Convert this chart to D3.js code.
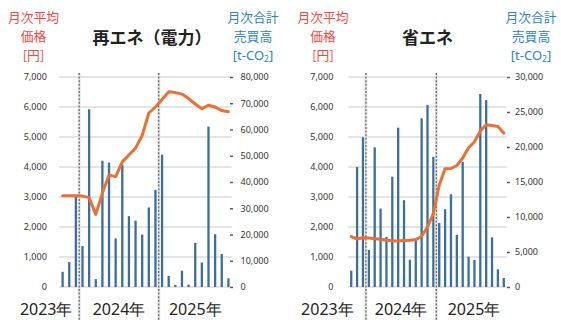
<!DOCTYPE html>
<html><head><meta charset="utf-8">
<script src="https://cdn.jsdelivr.net/npm/d3@7/dist/d3.min.js"></script>
<style>html,body{margin:0;padding:0;background:#fff;} svg{display:block;}</style>
</head><body><svg id="c" width="561" height="320"></svg>
<script>
// ---------- data ----------
const reMonths = ["2023-10","2023-11","2023-12",
  "2024-01","2024-02","2024-03","2024-04","2024-05","2024-06","2024-07","2024-08","2024-09","2024-10","2024-11","2024-12",
  "2025-01","2025-02","2025-03","2025-04","2025-05","2025-06","2025-07","2025-08","2025-09","2025-10","2025-11"];
const reVolume = [5800, 9500, 35000, 15600, 67700, 3000, 48100, 47400, 18500, 46600, 27000, 25300, 20000, 30300, 37000,
  50400, 4200, 800, 6200, 900, 16800, 9300, 61100, 20100, 12600, 3300];
const rePrice = [3040, 3040, 3040, 3030, 2980, 2420, 3130, 3730, 3680, 4170, 4400, 4630, 5050, 5800, 6000,
  6250, 6510, 6480, 6430, 6280, 6100, 5940, 6060, 6000, 5880, 5840];

const seMonths = ["2023-10","2023-11","2023-12",
  "2024-01","2024-02","2024-03","2024-04","2024-05","2024-06","2024-07","2024-08","2024-09","2024-10","2024-11","2024-12",
  "2025-01","2025-02","2025-03","2025-04","2025-05","2025-06","2025-07","2025-08","2025-09","2025-10","2025-11","2025-12"];
const seVolume = [2330, 17150, 21400, 5300, 19950, 11200, 7150, 15760, 22760, 12400, 3900, 6700, 24100, 26000, 18600,
  9150, 11100, 13250, 7430, 17850, 4330, 3860, 27570, 26700, 7100, 2530, 1280];
const sePrice = [1680, 1600, 1640, 1630, 1610, 1590, 1560, 1540, 1530, 1550, 1560, 1580, 1690, 2000, 2450,
  3400, 3940, 3950, 4050, 4300, 4640, 4840, 5200, 5410, 5380, 5350, 5130];

const priceTicks = [0, 1000, 2000, 3000, 4000, 5000, 6000, 7000];
const reVolTicks = [0, 10000, 20000, 30000, 40000, 50000, 60000, 70000, 80000];
const seVolTicks = [0, 5000, 10000, 15000, 20000, 25000, 30000];
const yearLabels = ["2023年", "2024年", "2025年"];
const yearStarts = ["2023-10", "2024-01", "2025-01"];
const priceTitle = ["月次平均", "価格", "[円]"];
const volTitle = ["月次合計", "売買高"];
const titles = ["再エネ（電力）", "省エネ"];

// ---------- drawing ----------
const svg = d3.select("#c");
const NUM = "'Noto Sans', 'Open Sans', sans-serif";
const CJK = "'Noto Sans CJK JP', 'Noto Sans', sans-serif";
const RED = "#ef4a3e", BLUE = "#2a83c5", BAR = "#3d6f98", LINE = "#eb7035";

function draw(cfg) {
  const g = svg.append("g");
  const x = d3.scaleBand().domain(cfg.months).range([cfg.x0, cfg.x1]).padding(0);
  const bw = x.bandwidth();
  const yTop = 77, yBot = 287;
  const y = d3.scaleLinear().domain([0, 7000]).range([yBot, yTop]);
  const y2 = d3.scaleLinear().domain([0, cfg.volMax]).range([yBot, yTop]);

  // gridlines
  g.append("g").selectAll("line").data(priceTicks).join("line")
    .attr("x1", cfg.x0).attr("x2", cfg.x1)
    .attr("y1", d => y(d)).attr("y2", d => y(d))
    .attr("stroke", "#dcdcdc").attr("stroke-width", 1.3);

  // left axis
  const la = g.append("g").attr("transform", `translate(${cfg.x0},0)`)
    .call(d3.axisLeft(y).tickValues(priceTicks).tickSize(0).tickPadding(cfg.lpad).tickFormat(d3.format(",")));
  la.select(".domain").remove();
  la.selectAll("text").attr("font-family", NUM).attr("font-size", 9).attr("fill", "#333");

  // right axis
  const ra = g.append("g").attr("transform", `translate(${cfg.rx},0)`)
    .call(d3.axisRight(y2).tickValues(cfg.volTicks).tickSize(3).tickPadding(cfg.rpad).tickFormat(d3.format(",")));
  ra.select(".domain").remove();
  ra.selectAll("line").attr("stroke", "#555").attr("stroke-width", 1.4);
  ra.selectAll("text").attr("font-family", NUM).attr("font-size", 9).attr("fill", "#333");

  // bars
  g.append("g").selectAll("rect").data(cfg.months).join("rect")
    .attr("x", (m) => x(m) + bw / 2 - 1.15)
    .attr("width", 2.3)
    .attr("y", (m, i) => y2(cfg.volume[i]))
    .attr("height", (m, i) => yBot - y2(cfg.volume[i]))
    .attr("fill", BAR);

  // year dividers
  yearStarts.slice(1).forEach(ms => {
    const xd = x(ms);
    g.append("line").attr("x1", xd).attr("x2", xd).attr("y1", 73).attr("y2", 320)
      .attr("stroke", "#e6e6e6").attr("stroke-width", 3);
    g.append("line").attr("x1", xd).attr("x2", xd).attr("y1", 73).attr("y2", 320)
      .attr("stroke", "#555").attr("stroke-width", 1.1).attr("stroke-dasharray", "2,1.6");
  });

  // price line
  const line = d3.line().x((d, i) => x(cfg.months[i]) + bw / 2).y(d => y(d));
  g.append("path").datum(cfg.price).attr("d", line)
    .attr("fill", "none").attr("stroke", LINE).attr("stroke-width", 3)
    .attr("stroke-linejoin", "round").attr("stroke-linecap", "round");

  // year labels
  yearLabels.forEach((t, k) => {
    let xc;
    if (k === 0) xc = x(yearStarts[1]) - cfg.y23off;
    else {
      const s = x(yearStarts[k]);
      const e = k === 2 ? cfg.x1 : x(yearStarts[k + 1]);
      xc = (s + e) / 2 + (k === 2 ? cfg.y25shift : 0);
    }
    g.append("text").attr("x", xc).attr("y", 315).attr("text-anchor", "middle")
      .attr("font-family", NUM).attr("font-size", 16).attr("fill", "#222").text(t);
  });

  // axis titles
  const lineYs = [22, 41, 60];
  const fs = 12.8;
  priceTitle.forEach((t, k) => {
    g.append("text").attr("x", cfg.ltx).attr("y", lineYs[k]).attr("text-anchor", "middle")
      .attr("font-family", CJK).attr("font-size", fs).attr("fill", RED).text(t);
  });
  volTitle.forEach((t, k) => {
    g.append("text").attr("x", cfg.rtx).attr("y", lineYs[k]).attr("text-anchor", "middle")
      .attr("font-family", CJK).attr("font-size", fs).attr("fill", BLUE).text(t);
  });
  const co = g.append("text").attr("x", cfg.rtx).attr("y", lineYs[2]).attr("text-anchor", "middle")
    .attr("font-family", NUM).attr("font-size", 13).attr("fill", BLUE);
  co.append("tspan").text("[t-CO");
  co.append("tspan").attr("font-size", 8.5).attr("dy", 2).text("2");
  co.append("tspan").attr("dy", -2).text("]");

  // chart title
  g.append("text").attr("x", cfg.tx).attr("y", 44).attr("text-anchor", "middle")
    .attr("font-family", CJK).attr("font-weight", "bold").attr("font-size", 17).attr("fill", "#222")
    .text(cfg.title);
}

draw({months: reMonths, volume: reVolume, price: rePrice, volMax: 80000, volTicks: reVolTicks,
  x0: 59.3, x1: 231.7, lpad: 12.5, rx: 230, rpad: 7.5, y23off: 33, y25shift: 0,
  ltx: 33.5, rtx: 253, tx: 152, title: titles[0]});
draw({months: seMonths, volume: seVolume, price: sePrice, volMax: 30000, volTicks: seVolTicks,
  x0: 348.3, x1: 506.7, lpad: 15, rx: 507, rpad: 5, y23off: 38.5, y25shift: 2.5,
  ltx: 323, rtx: 531, tx: 427.5, title: titles[1]});
</script></body></html>
